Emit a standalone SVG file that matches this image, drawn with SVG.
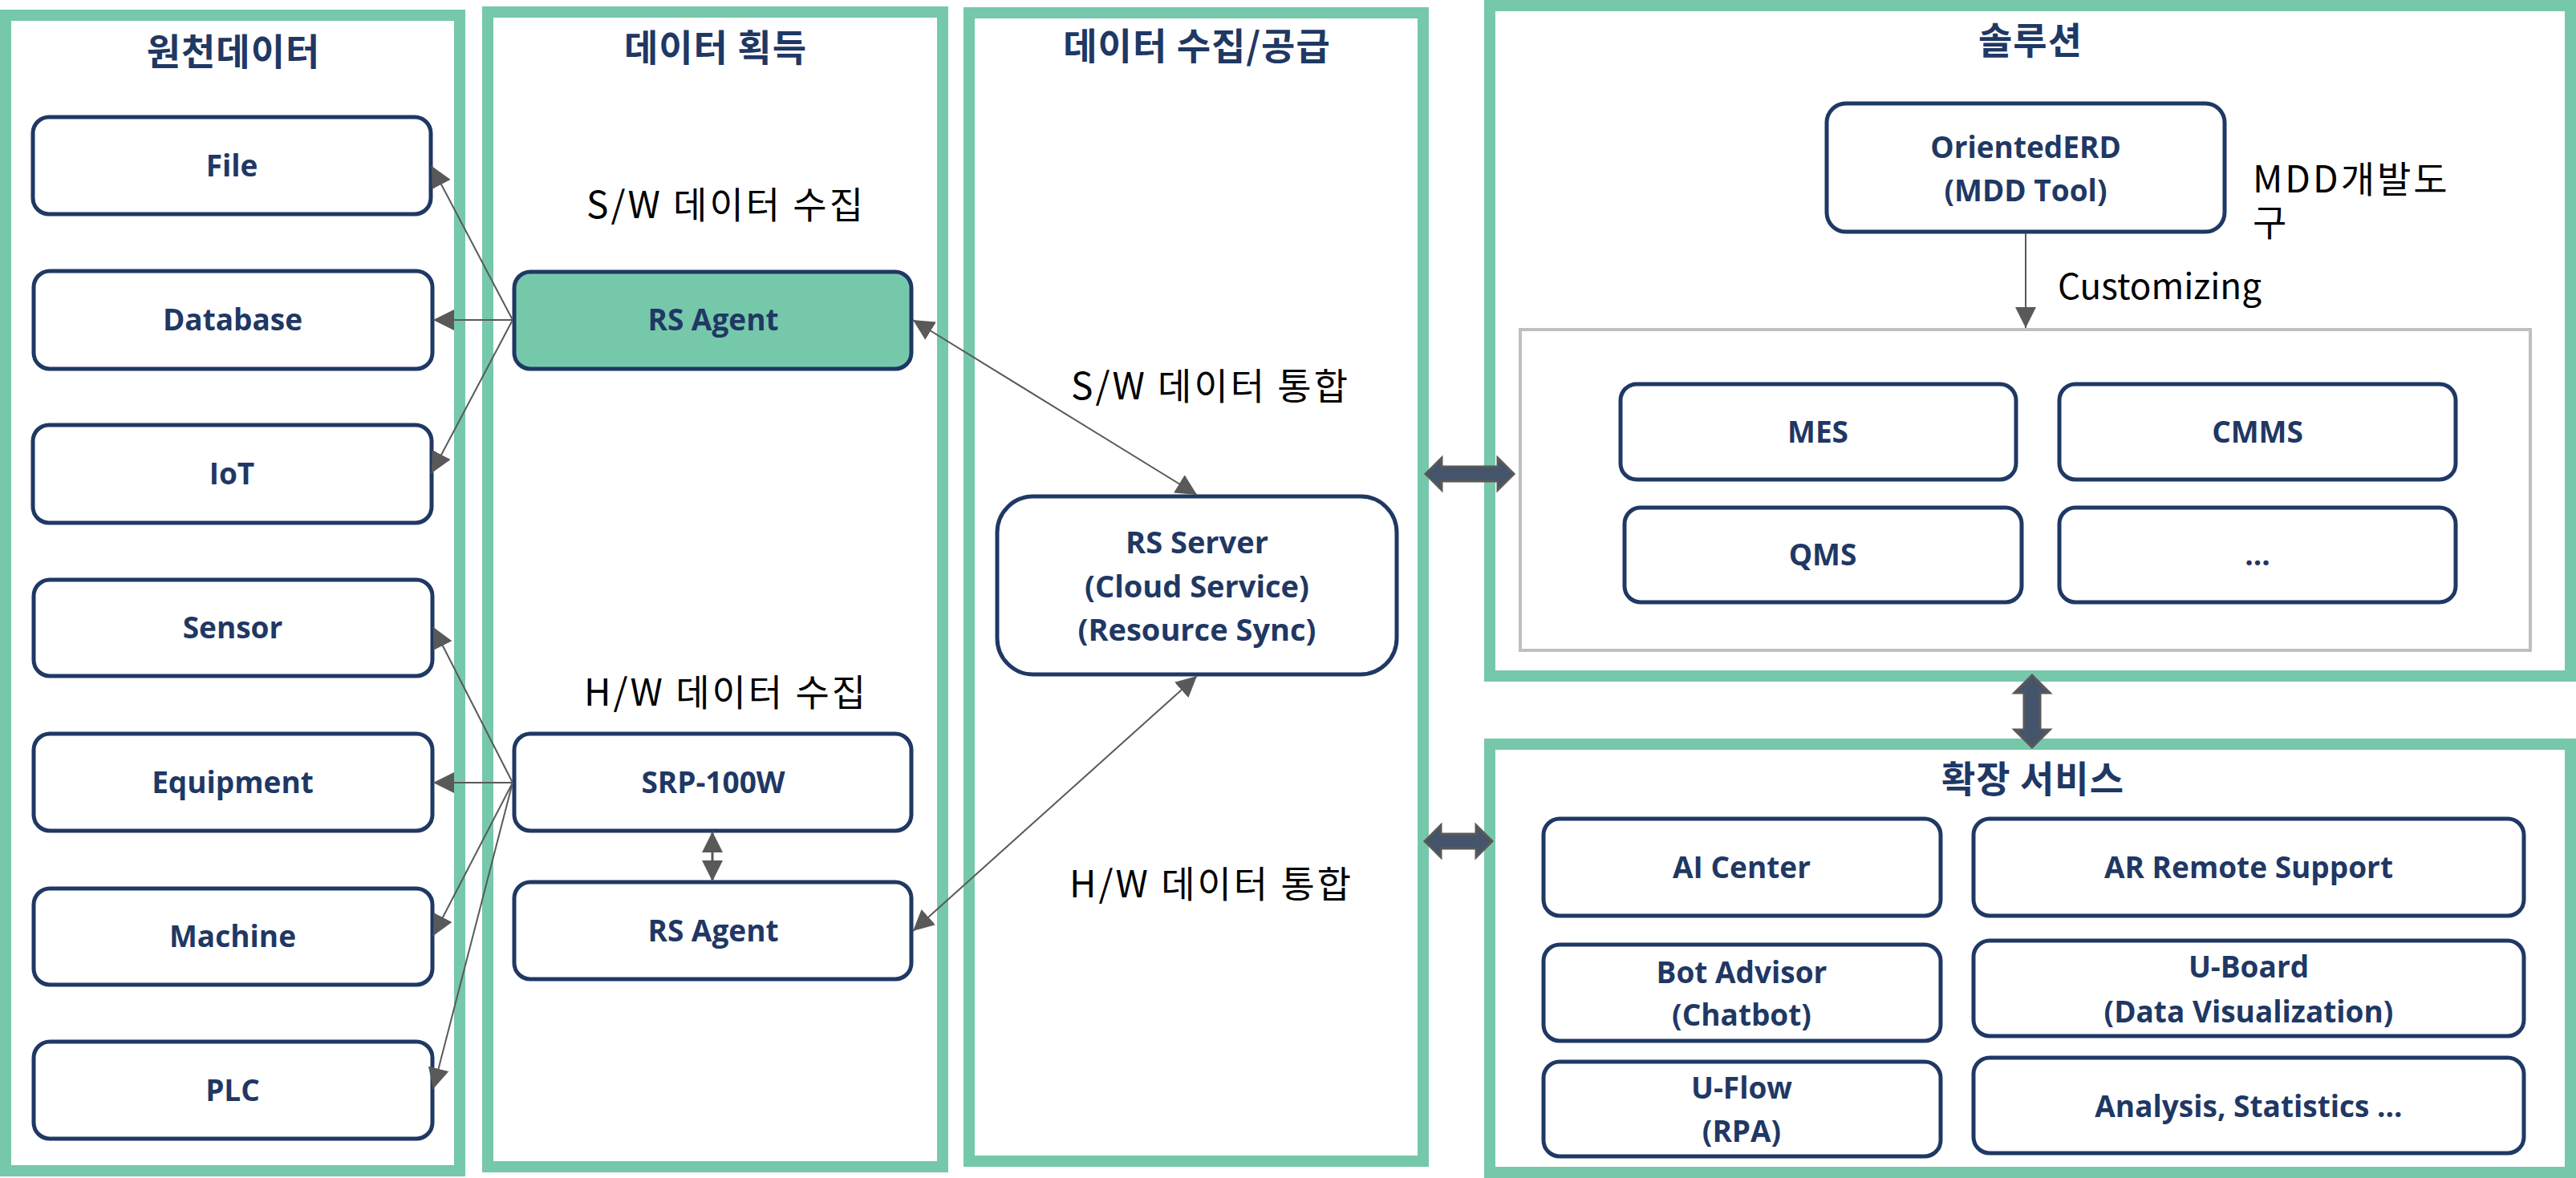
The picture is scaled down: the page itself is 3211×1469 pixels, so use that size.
<svg xmlns="http://www.w3.org/2000/svg" width="3211" height="1469" viewBox="0 0 3211 1469">
<defs>
<style>
.panel{fill:#ffffff;stroke:#76c8aa;stroke-width:14}
.node{fill:#ffffff;stroke:#1f3864;stroke-width:5}
.gray{fill:none;stroke:#bfbfbf;stroke-width:4}
.title{font-family:"Noto Sans CJK KR","Noto Sans",sans-serif;font-weight:700;font-size:46px;letter-spacing:1px;fill:#1f3864;text-anchor:middle}
.lbl{font-family:"Open Sans","Noto Sans CJK KR",sans-serif;font-weight:700;font-size:37px;fill:#1f3864;text-anchor:middle}
.plain{font-family:"Noto Sans CJK KR","Noto Sans",sans-serif;font-weight:400;font-size:46px;letter-spacing:3px;fill:#000000}
.latin{font-family:"Noto Sans CJK KR","Noto Sans",sans-serif;font-weight:400;font-size:44px;fill:#000000}
.mid{text-anchor:middle}
.conn{fill:none;stroke:#595959;stroke-width:2}
.thick{fill:#44546a;stroke:#595959;stroke-width:3;stroke-linejoin:miter}
</style>
<marker id="ah" markerUnits="userSpaceOnUse" markerWidth="26" markerHeight="26" refX="26" refY="13" orient="auto-start-reverse" viewBox="0 0 26 26">
<path d="M0,0 L26,13 L0,26 Z" fill="#595959"/>
</marker>
</defs>
<rect width="3211" height="1469" fill="#ffffff"/>

<g id="panel-source">
<rect class="panel" x="7" y="19" width="566" height="1441"/>
<text class="title" x="291" y="81">원천데이터</text>
</g>
<g id="panel-acquire">
<rect class="panel" x="608" y="15" width="567" height="1440"/>
<text class="title" x="892" y="76">데이터 획득</text>
<text class="plain mid" x="905" y="272">S/W 데이터 수집</text>
<text class="plain mid" x="905" y="880">H/W 데이터 수집</text>
</g>
<g id="panel-collect">
<rect class="panel" x="1208" y="16" width="566" height="1432"/>
<text class="title" x="1492" y="74">데이터 수집/공급</text>
<text class="plain mid" x="1509" y="498">S/W 데이터 통합</text>
<text class="plain mid" x="1510" y="1119">H/W 데이터 통합</text>
</g>
<g id="panel-solution">
<rect class="panel" x="1857" y="7" width="1347" height="836"/>
<text class="title" x="2531" y="67">솔루션</text>
<rect class="gray" x="1895" y="411" width="1259" height="400"/>
<text class="plain" x="2808" y="240">MDD개발도</text>
<text class="plain" x="2808" y="294">구</text>
<text class="latin" x="2565" y="373">Customizing</text>
</g>
<g id="panel-extension">
<rect class="panel" x="1857" y="928" width="1347" height="534"/>
<text class="title" x="2534" y="988">확장 서비스</text>
</g>

<g id="node-file"><rect class="node" x="41" y="146" width="496" height="121" rx="20"/><text class="lbl" x="289" y="220">File</text></g>
<g id="node-database"><rect class="node" x="42" y="338" width="497" height="122" rx="20"/><text class="lbl" x="290" y="412">Database</text></g>
<g id="node-iot"><rect class="node" x="41" y="530" width="497" height="122" rx="20"/><text class="lbl" x="289" y="604">IoT</text></g>
<g id="node-sensor"><rect class="node" x="42" y="723" width="497" height="120" rx="20"/><text class="lbl" x="290" y="796">Sensor</text></g>
<g id="node-equipment"><rect class="node" x="42" y="915" width="497" height="121" rx="20"/><text class="lbl" x="290" y="989">Equipment</text></g>
<g id="node-machine"><rect class="node" x="42" y="1108" width="497" height="120" rx="20"/><text class="lbl" x="290" y="1181">Machine</text></g>
<g id="node-plc"><rect class="node" x="42" y="1299" width="497" height="121" rx="20"/><text class="lbl" x="290" y="1373">PLC</text></g>

<g id="node-rsagent-sw"><rect class="node" x="641" y="339" width="495" height="121" rx="20" style="fill:#76c8aa"/><text class="lbl" x="889" y="412">RS Agent</text></g>
<g id="node-srp100w"><rect class="node" x="641" y="915" width="495" height="121" rx="20"/><text class="lbl" x="889" y="989">SRP-100W</text></g>
<g id="node-rsagent-hw"><rect class="node" x="641" y="1100" width="495" height="121" rx="20"/><text class="lbl" x="889" y="1174">RS Agent</text></g>

<g id="node-rsserver"><rect class="node" x="1243" y="619" width="498" height="222" rx="45"/>
<text class="lbl" x="1492" y="690" style="font-size:38px">RS Server</text>
<text class="lbl" x="1492" y="745" style="font-size:38px">(Cloud Service)</text>
<text class="lbl" x="1492" y="799" style="font-size:38px">(Resource Sync)</text></g>

<g id="node-orientederd"><rect class="node" x="2277" y="129" width="496" height="160" rx="24"/>
<text class="lbl" x="2525" y="197">OrientedERD</text>
<text class="lbl" x="2525" y="251">(MDD Tool)</text></g>
<g id="node-mes"><rect class="node" x="2020" y="479" width="493" height="119" rx="20"/><text class="lbl" x="2266" y="552">MES</text></g>
<g id="node-cmms"><rect class="node" x="2567" y="479" width="494" height="119" rx="20"/><text class="lbl" x="2814" y="552">CMMS</text></g>
<g id="node-qms"><rect class="node" x="2025" y="633" width="495" height="118" rx="20"/><text class="lbl" x="2272" y="705">QMS</text></g>
<g id="node-etc"><rect class="node" x="2567" y="633" width="494" height="118" rx="20"/><text class="lbl" x="2814" y="705">...</text></g>

<g id="node-aicenter"><rect class="node" x="1924" y="1021" width="495" height="121" rx="20"/><text class="lbl" x="2171" y="1095">AI Center</text></g>
<g id="node-arremote"><rect class="node" x="2460" y="1021" width="686" height="121" rx="20"/><text class="lbl" x="2803" y="1095">AR Remote Support</text></g>
<g id="node-botadvisor"><rect class="node" x="1924" y="1178" width="495" height="120" rx="20"/><text class="lbl" x="2171" y="1226">Bot Advisor</text><text class="lbl" x="2171" y="1279">(Chatbot)</text></g>
<g id="node-uboard"><rect class="node" x="2460" y="1173" width="686" height="119" rx="20"/><text class="lbl" x="2803" y="1219">U-Board</text><text class="lbl" x="2803" y="1275">(Data Visualization)</text></g>
<g id="node-uflow"><rect class="node" x="1924" y="1324" width="495" height="118" rx="20"/><text class="lbl" x="2171" y="1370">U-Flow</text><text class="lbl" x="2171" y="1424">(RPA)</text></g>
<g id="node-analysis"><rect class="node" x="2460" y="1319" width="686" height="119" rx="20"/><text class="lbl" x="2803" y="1393">Analysis, Statistics ...</text></g>

<g id="connectors">
<line class="conn" x1="639" y1="399" x2="538" y2="207" marker-end="url(#ah)"/>
<line class="conn" x1="639" y1="399" x2="540" y2="399" marker-end="url(#ah)"/>
<line class="conn" x1="639" y1="399" x2="538" y2="590" marker-end="url(#ah)"/>
<line class="conn" x1="639" y1="976" x2="540" y2="782" marker-end="url(#ah)"/>
<line class="conn" x1="639" y1="976" x2="540" y2="976" marker-end="url(#ah)"/>
<line class="conn" x1="639" y1="976" x2="540" y2="1167" marker-end="url(#ah)"/>
<line class="conn" x1="639" y1="976" x2="540" y2="1358" marker-end="url(#ah)"/>
<line class="conn" x1="1138" y1="399" x2="1492" y2="617" marker-start="url(#ah)" marker-end="url(#ah)"/>
<line class="conn" x1="1492" y1="843" x2="1138" y2="1161" marker-start="url(#ah)" marker-end="url(#ah)"/>
<line class="conn" x1="888" y1="1037" x2="888" y2="1099" style="stroke-width:3" marker-start="url(#ah)" marker-end="url(#ah)"/>
<line class="conn" x1="2525" y1="291" x2="2525" y2="409" marker-end="url(#ah)"/>
<polygon class="thick" points="1777,591 1797,571 1797,582 1867,582 1867,571 1887,591 1867,611 1867,600 1797,600 1797,611"/>
<polygon class="thick" points="1776,1049 1796,1029 1796,1040 1840,1040 1840,1029 1860,1049 1840,1069 1840,1058 1796,1058 1796,1069"/>
<polygon class="thick" points="2533,842 2555,864 2543,864 2543,910 2555,910 2533,932 2511,910 2523,910 2523,864 2511,864"/>
</g>
</svg>
